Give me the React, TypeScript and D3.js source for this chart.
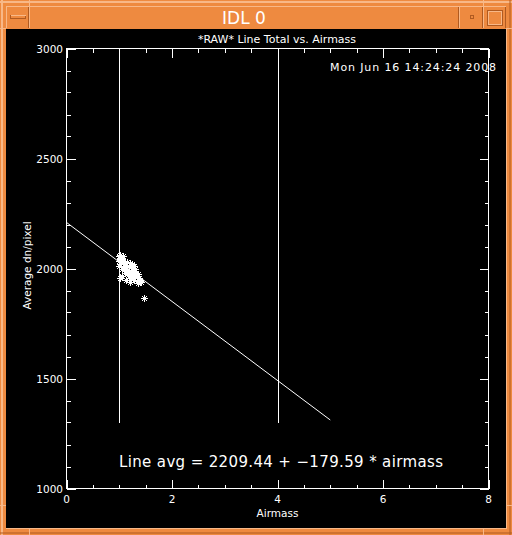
import React from "react";
import * as d3 from "d3";

const airmass = [1.00,1.01,1.02,1.03,1.04,1.05,1.06,1.08,1.02,1.00,1.05,1.10,1.12,1.15,1.18,1.20,1.22,1.25,1.28,1.30,1.14,1.18,1.22,1.26,1.32,1.35,1.10,1.16,1.24,1.30,1.38,1.40,1.02,1.06,1.12,1.20,1.28,1.35,1.38,1.08,1.12,0.99,1.03,1.07,1.20,1.33,1.42,1.46];
const lineAvg = [2055,2040,2062,2045,2030,2050,2040,2035,2020,2010,2000,2025,2015,2028,2010,2025,2005,2020,2010,2000,1995,1990,1985,1990,1980,1975,1980,1970,1965,1960,1955,1945,1958,1965,1948,1955,1950,1935,1948,2005,2000,2035,2052,2058,1940,1962,1938,1865];
const xMajor = [0,2,4,6,8];
const yMajor = [1000,1500,2000,2500,3000];
const vLines = [1,4];
const vLineRange = [1300,3000];
const fitIntercept = 2209.44;
const fitSlope = -179.59;
const fitRange = [0,5];
const title = "*RAW* Line Total vs. Airmass";
const dateText = "Mon Jun 16 14:24:24 2008";
const eqText = "Line avg = 2209.44 + \u2212179.59 * airmass";

const ORANGE = "#EE8A40";
const LIGHT = "#F8B888";
const DARK = "#B05A20";
const FONT = "DejaVu Sans, sans-serif";

export default function App() {
  const x = d3.scaleLinear().domain([0, 8]).range([66.5, 488.5]);
  const y = d3.scaleLinear().domain([1000, 3000]).range([488.5, 48.5]);
  const xMinor = d3.range(0, 8.001, 0.5).filter((v) => !xMajor.includes(v));
  const yMinor = d3.range(1000, 3001, 100).filter((v) => !yMajor.includes(v));
  const line = d3.line<number>().x((d) => x(d)).y((d) => y(fitIntercept + fitSlope * d));
  const W = "#ffffff";
  return (
    <svg width={512} height={535} style={{ position: "fixed", left: 0, top: 0 }}>
      <rect x={0} y={0} width={512} height={535} fill={ORANGE} />
      <rect x={0} y={1} width={512} height={2} fill={LIGHT} />
      <rect x={1} y={0} width={2} height={535} fill={LIGHT} />
      <rect x={509} y={0} width={2} height={535} fill={DARK} opacity={0.5} />
      <rect x={0} y={532} width={512} height={2} fill={DARK} opacity={0.5} />
      <g stroke={LIGHT} strokeWidth={1} shapeRendering="crispEdges">
        <line x1={29.5} y1={0} x2={29.5} y2={7} />
        <line x1={483.5} y1={0} x2={483.5} y2={7} />
        <line x1={29.5} y1={528} x2={29.5} y2={535} />
        <line x1={483.5} y1={528} x2={483.5} y2={535} />
        <line x1={0} y1={28.5} x2={6} y2={28.5} />
        <line x1={506} y1={28.5} x2={512} y2={28.5} />
        <line x1={0} y1={505.5} x2={6} y2={505.5} />
        <line x1={506} y1={505.5} x2={512} y2={505.5} />
        <line x1={6} y1={6.5} x2={506} y2={6.5} />
        <line x1={6.5} y1={6} x2={6.5} y2={28} />
        <line x1={29.5} y1={6} x2={29.5} y2={28} />
        <line x1={459.5} y1={6} x2={459.5} y2={28} />
        <line x1={483.5} y1={6} x2={483.5} y2={28} />
        <line x1={506.5} y1={28} x2={506.5} y2={529} />
        <line x1={6} y1={528.5} x2={507} y2={528.5} />
      </g>
      <g stroke={DARK} strokeWidth={1} shapeRendering="crispEdges">
        <line x1={28.5} y1={7} x2={28.5} y2={28} />
        <line x1={458.5} y1={7} x2={458.5} y2={28} />
        <line x1={482.5} y1={7} x2={482.5} y2={28} />
        <line x1={505.5} y1={7} x2={505.5} y2={28} />
      </g>
      <rect x={10.5} y={15.5} width={15} height={3} fill={ORANGE} stroke={DARK} shapeRendering="crispEdges" />
      <line x1={10.5} y1={15.5} x2={25.5} y2={15.5} stroke={LIGHT} shapeRendering="crispEdges" />
      <rect x={470.5} y={15.5} width={3} height={3} fill={ORANGE} stroke={DARK} shapeRendering="crispEdges" />
      <rect x={487.5} y={10.5} width={15} height={15} fill="none" stroke={DARK} shapeRendering="crispEdges" />
      <rect x={488.5} y={11.5} width={13} height={13} fill="none" stroke={LIGHT} shapeRendering="crispEdges" />
      <text x={244} y={24} fill={W} fontFamily={FONT} fontSize={17} textAnchor="middle">IDL 0</text>

      <rect x={6} y={29} width={500} height={499} fill="#000" />

      <g stroke={W} strokeWidth={1} shapeRendering="crispEdges" fill="none">
        <rect x={x(0)} y={y(3000)} width={x(8) - x(0)} height={y(1000) - y(3000)} />
        {xMajor.map((v) => (
          <g key={"xm" + v}>
            <line x1={Math.round(x(v)) + 0.5} x2={Math.round(x(v)) + 0.5} y1={y(1000)} y2={y(1000) - 9} />
            <line x1={Math.round(x(v)) + 0.5} x2={Math.round(x(v)) + 0.5} y1={y(3000)} y2={y(3000) + 9} />
          </g>
        ))}
        {xMinor.map((v) => (
          <g key={"xn" + v}>
            <line x1={Math.round(x(v)) + 0.5} x2={Math.round(x(v)) + 0.5} y1={y(1000)} y2={y(1000) - 4} />
            <line x1={Math.round(x(v)) + 0.5} x2={Math.round(x(v)) + 0.5} y1={y(3000)} y2={y(3000) + 4} />
          </g>
        ))}
        {yMajor.map((v) => (
          <g key={"ym" + v}>
            <line y1={Math.round(y(v)) + 0.5} y2={Math.round(y(v)) + 0.5} x1={x(0)} x2={x(0) + 9} />
            <line y1={Math.round(y(v)) + 0.5} y2={Math.round(y(v)) + 0.5} x1={x(8)} x2={x(8) - 9} />
          </g>
        ))}
        {yMinor.map((v) => (
          <g key={"yn" + v}>
            <line y1={Math.round(y(v)) + 0.5} y2={Math.round(y(v)) + 0.5} x1={x(0)} x2={x(0) + 4} />
            <line y1={Math.round(y(v)) + 0.5} y2={Math.round(y(v)) + 0.5} x1={x(8)} x2={x(8) - 4} />
          </g>
        ))}
        {vLines.map((v) => (
          <line key={"v" + v} x1={Math.round(x(v)) + 0.5} x2={Math.round(x(v)) + 0.5} y1={y(vLineRange[0])} y2={y(vLineRange[1])} />
        ))}
      </g>
      <path d={line(fitRange) || ""} stroke={W} strokeWidth={1} fill="none" />
      <g stroke={W} strokeWidth={1} fill="none">
        {airmass.map((a, i) => {
          const cx = Math.round(x(a)) + 0.5;
          const cy = Math.round(y(lineAvg[i])) + 0.5;
          const r = 3.5;
          const q = 2.5;
          return (
            <path key={"p" + i} d={`M${cx - r},${cy}H${cx + r}M${cx},${cy - r}V${cy + r}M${cx - q},${cy - q}L${cx + q},${cy + q}M${cx - q},${cy + q}L${cx + q},${cy - q}`} />
          );
        })}
      </g>

      <g fill={W} fontFamily={FONT} fontSize={10.5}>
        {xMajor.map((v) => (
          <text key={"xl" + v} x={x(v)} y={503} textAnchor="middle">{v}</text>
        ))}
        {yMajor.map((v) => (
          <text key={"yl" + v} x={63} y={y(v) + 4} textAnchor="end">{v}</text>
        ))}
        <text x={x(4)} y={517} textAnchor="middle">Airmass</text>
        <text transform={`translate(31,${y(2000) - 3}) rotate(-90)`} textAnchor="middle">Average dn/pixel</text>
        <text x={277} y={43} textAnchor="middle" fontSize={11}>{title}</text>
        <text x={496} y={71} textAnchor="end" fontSize={11} textLength={166}>{dateText}</text>
      </g>
      <text x={119} y={467} fill={W} fontFamily={FONT} fontSize={15} textLength={324}>{eqText}</text>
    </svg>
  );
}
